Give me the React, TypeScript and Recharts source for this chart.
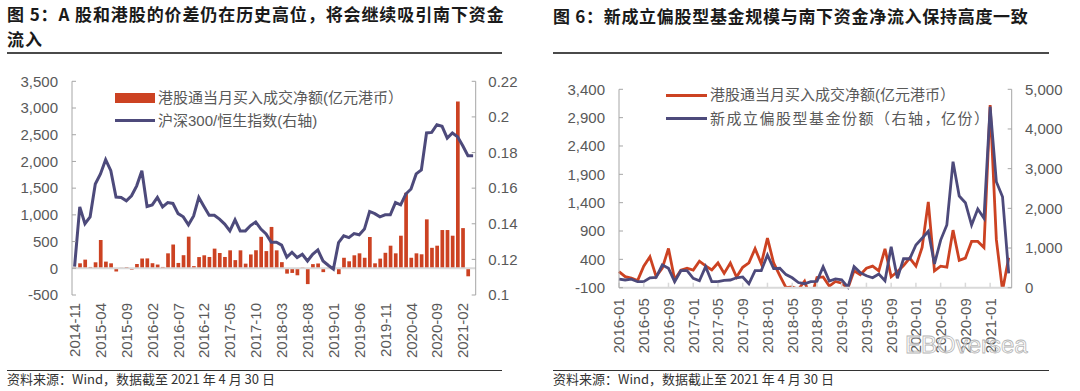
import React from 'react';
import { ComposedChart, Bar, Line, XAxis, YAxis, ReferenceLine } from 'recharts';

const RED = '#CC4222';
const PURPLE = '#4D4A7B';
const AXIS = '#a6a6a6';
const BASE = '#d9d9d9';
const TEXT = '#595959';
const FONT = "'Liberation Sans', 'Noto Sans CJK SC', sans-serif";
const CJK = "'Noto Sans CJK SC', 'Liberation Sans', sans-serif";

function monthRange(start: string, count: number): string[] {
  const [y0, m0] = start.split('-').map(Number);
  const out: string[] = [];
  for (let i = 0; i < count; i++) {
    const t = y0 * 12 + (m0 - 1) + i;
    const y = Math.floor(t / 12);
    const m = (t % 12) + 1;
    out.push(`${y}-${m < 10 ? '0' + m : m}`);
  }
  return out;
}

// ---------- Figure 5 ----------
const leftMonths = monthRange('2014-11', 78);
const southboundBars: (number | null)[] = [
  15, 93, 162, 25, 112, 530, 125, 93, -60, 10, 25, -25, 80, 183,
  185, 95, 70, 25, 280, 445, 100, 245, 592, 40, 210, 243, 212, 368, 286, 212,
  336, 153, 336, 87, 259, 338, 589, 322, 774, 336, 115, -100, -87, -131, 15,
  -296, 78, 90, -72, 10, -20, -110, 197, 131, 243, 280, 197, 586, 93, 181,
  290, 423, 280, 610, 1414, 197, 280, 262, 916, 383, 423, 716, 716, 610, 3121,
  752, -150, null,
];
const csi300HsiRatio: number[] = [
  0.116, 0.1495, 0.14, 0.1439, 0.1623, 0.168, 0.176, 0.1698, 0.155, 0.1548,
  0.1529, 0.1557, 0.1613, 0.1698, 0.1497, 0.1506, 0.1548, 0.1495, 0.1519, 0.1514,
  0.1457, 0.1439, 0.1394, 0.1444, 0.1548, 0.1497, 0.1448, 0.1448, 0.1426, 0.1398,
  0.136, 0.1422, 0.136, 0.136, 0.139, 0.141, 0.137, 0.1343, 0.1296, 0.1296,
  0.128, 0.1212, 0.124, 0.121, 0.1229, 0.1191, 0.1229, 0.1253, 0.1191, 0.1167,
  0.1145, 0.1294, 0.1332, 0.1322, 0.1345, 0.1338, 0.137, 0.1469, 0.1457, 0.1439,
  0.145, 0.145, 0.1519, 0.1506, 0.1567, 0.1595, 0.168, 0.1702, 0.191, 0.1913,
  0.1956, 0.1947, 0.1881, 0.191, 0.1889, 0.1838, 0.1782, 0.1782,
];
const leftAxisTicks = [-500, 0, 500, 1000, 1500, 2000, 2500, 3000, 3500];
const ratioTicks = [0.1, 0.12, 0.14, 0.16, 0.18, 0.2, 0.22];

// ---------- Figure 6 ----------
const rightMonths = monthRange('2016-01', 64);
const southboundLine: number[] = [
  185, 95, 70, 25, 280, 445, 100, 245, 592, 40, 210, 243, 212, 368, 286, 212,
  336, 153, 336, 87, 259, 338, 589, 322, 774, 336, 115, -100, -87, -131, 15,
  -296, 78, 90, -72, 10, -20, -110, 197, 131, 243, 280, 197, 586, 93, 181,
  290, 423, 280, 610, 1414, 197, 280, 262, 916, 383, 423, 716, 716, 610, 3121,
  752, -150, 430,
];
const newFundShares: number[] = [
  219, 194, 215, 151, 151, 250, 262, 572, 489, 151, 428, 428, 237, 176, 530, 151,
  151, 185, 194, 250, 270, 100, 428, 428, 824, 480, 489, 330, 250, 130, 100, 151,
  160, 529, 168, 220, 200, 15, 529, 380, 300, 250, 345, 176, 1033, 236, 730, 730,
  1075, 1245, 1420, 600, 1200, 1580, 3175, 2311, 2142, 1580, 1983, 1749, 4561, 2671,
  2293, 363,
];
const flowTicks2 = [-100, 400, 900, 1400, 1900, 2400, 2900, 3400];
const shareTicks = [0, 1000, 2000, 3000, 4000, 5000];

const leftData = leftMonths.map((m, i) => ({ month: m, flow: southboundBars[i], ratio: csi300HsiRatio[i] }));
const rightData = rightMonths.map((m, i) => ({ month: m, flow: southboundLine[i], shares: newFundShares[i] }));

const fmtComma = (v: number) => v.toLocaleString('en-US');

const RotTick = (props: any) => {
  const { x, y, payload } = props;
  return (
    <text
      x={x}
      y={y}
      transform={`rotate(-90 ${x} ${y})`}
      textAnchor="end"
      dominantBaseline="central"
      fill={TEXT}
      fontSize={15}
      fontFamily={FONT}
    >
      {payload.value}
    </text>
  );
};

const tickStyle = { fill: TEXT, fontSize: 15, fontFamily: FONT };

const abs = (l: number, t: number): React.CSSProperties => ({ position: 'absolute', left: l, top: t });

const legendText: React.CSSProperties = {
  position: 'absolute',
  fontFamily: FONT,
  fontSize: 15,
  color: TEXT,
  whiteSpace: 'nowrap',
  lineHeight: '18px',
};

export default function App() {
  return (
    <div style={{ position: 'absolute', left: 0, top: 0, width: 1080, height: 391, background: '#fff', overflow: 'hidden' }}>
      {/* titles */}
      <div style={{ ...abs(7, 1), width: 500, fontFamily: CJK, fontWeight: 700, fontSize: 17, letterSpacing: 0.9, lineHeight: '25px', color: '#1a1a1a' }}>
        图 5：A 股和港股的价差仍在历史高位，将会继续吸引南下资金<br />流入
      </div>
      <div style={{ ...abs(553, 3), fontFamily: CJK, fontWeight: 700, fontSize: 17, letterSpacing: 0.7, lineHeight: '25px', color: '#1a1a1a', whiteSpace: 'nowrap' }}>
        图 6：新成立偏股型基金规模与南下资金净流入保持高度一致
      </div>
      <div style={{ ...abs(7, 52), width: 495, height: 1.5, background: '#4a4a4a' }} />
      <div style={{ ...abs(553, 52), width: 496, height: 1.5, background: '#4a4a4a' }} />

      {/* Figure 5 chart */}
      <div style={abs(0, 0)}>
        <ComposedChart width={540} height={391} data={leftData} margin={{ top: 81.3, right: 4.3, bottom: 36, left: 12 }}>
          <XAxis dataKey="month" interval={4} tick={<RotTick />} tickLine={false} axisLine={false} tickSize={0} tickMargin={8} height={60} />
          <YAxis
            yAxisId="l"
            domain={[-500, 3500]}
            ticks={leftAxisTicks}
            width={60}
            tickSize={-4}
            tickMargin={18}
            axisLine={{ stroke: AXIS }}
            tickLine={{ stroke: AXIS }}
            tick={tickStyle}
            tickFormatter={fmtComma}
          />
          <YAxis
            yAxisId="r"
            orientation="right"
            domain={[0.1, 0.22]}
            ticks={ratioTicks}
            width={60}
            tickSize={-4}
            tickMargin={16.6}
            axisLine={{ stroke: AXIS }}
            tickLine={{ stroke: AXIS }}
            tick={tickStyle}
            tickFormatter={(v: number) => String(v)}
          />
          <ReferenceLine yAxisId="l" y={0} stroke={BASE} strokeWidth={2} />
          <Bar yAxisId="l" dataKey="flow" fill={RED} barSize={3.7} isAnimationActive={false} />
          <Line yAxisId="r" dataKey="ratio" stroke={PURPLE} strokeWidth={3} dot={false} isAnimationActive={false} />
        </ComposedChart>
      </div>

      {/* Figure 5 legend */}
      <div style={{ ...abs(115, 93.3), width: 40, height: 9.5, background: RED }} />
      <div style={{ ...legendText, left: 158, top: 89 }}>港股通当月买入成交净额(亿元港币）</div>
      <div style={{ ...abs(115, 118.5), width: 40, height: 3, background: PURPLE }} />
      <div style={{ ...legendText, left: 158, top: 112 }}>沪深300/恒生指数(右轴)</div>

      {/* Figure 6 chart */}
      <div style={abs(540, 0)}>
        <ComposedChart width={540} height={391} data={rightData} margin={{ top: 89.3, right: 8.3, bottom: 43.3, left: 19 }}>
          <XAxis
            dataKey="month"
            scale="point"
            interval={3}
            padding={{ left: 0, right: 3 }}
            tick={<RotTick />}
            tickLine={{ stroke: BASE, strokeWidth: 1.5 }}
            axisLine={{ stroke: BASE, strokeWidth: 2 }}
            tickSize={-5}
            tickMargin={15.5}
            height={60}
          />
          <YAxis
            yAxisId="l"
            domain={[-100, 3400]}
            allowDataOverflow
            ticks={flowTicks2}
            width={60}
            tickSize={-4}
            tickMargin={18}
            axisLine={{ stroke: AXIS }}
            tickLine={{ stroke: AXIS }}
            tick={tickStyle}
            tickFormatter={fmtComma}
          />
          <YAxis
            yAxisId="r"
            orientation="right"
            domain={[0, 5000]}
            ticks={shareTicks}
            width={60}
            tickSize={-4}
            tickMargin={17.3}
            axisLine={{ stroke: AXIS }}
            tickLine={{ stroke: AXIS }}
            tick={tickStyle}
            tickFormatter={fmtComma}
          />
          <Line yAxisId="l" dataKey="flow" stroke={RED} strokeWidth={2.8} dot={false} isAnimationActive={false} />
          <Line yAxisId="r" dataKey="shares" stroke={PURPLE} strokeWidth={2.8} dot={false} isAnimationActive={false} />
        </ComposedChart>
      </div>

      {/* Figure 6 legend */}
      <div style={{ ...abs(666, 94.2), width: 41, height: 3, background: RED }} />
      <div style={{ ...legendText, left: 710, top: 86 }}>港股通当月买入成交净额(亿元港币）</div>
      <div style={{ ...abs(666, 116.8), width: 41, height: 3, background: PURPLE }} />
      <div style={{ ...legendText, left: 710, top: 110, letterSpacing: 1.5 }}>新成立偏股型基金份额（右轴，亿份）</div>

      {/* watermark */}
      <div style={{ position: 'absolute', left: 905, top: 331, fontFamily: FONT, fontSize: 24, color: 'rgba(255,255,255,0.5)', WebkitTextStroke: '0.8px #b5b5b5', whiteSpace: 'nowrap' } as React.CSSProperties}>
        EBOversea
      </div>

      {/* sources */}
      <div style={{ ...abs(7, 369.5), width: 495, height: 1, background: '#333' }} />
      <div style={{ ...abs(553, 369.5), width: 496, height: 1, background: '#333' }} />
      <div style={{ ...abs(7, 370), fontFamily: CJK, fontSize: 13, lineHeight: '18px', color: '#333', whiteSpace: 'nowrap' }}>
        资料来源：Wind，数据截至 2021 年 4 月 30 日
      </div>
      <div style={{ ...abs(553, 370), fontFamily: CJK, fontSize: 13, lineHeight: '18px', color: '#333', whiteSpace: 'nowrap' }}>
        资料来源：Wind，数据截止至 2021 年 4 月 30 日
      </div>
    </div>
  );
}
